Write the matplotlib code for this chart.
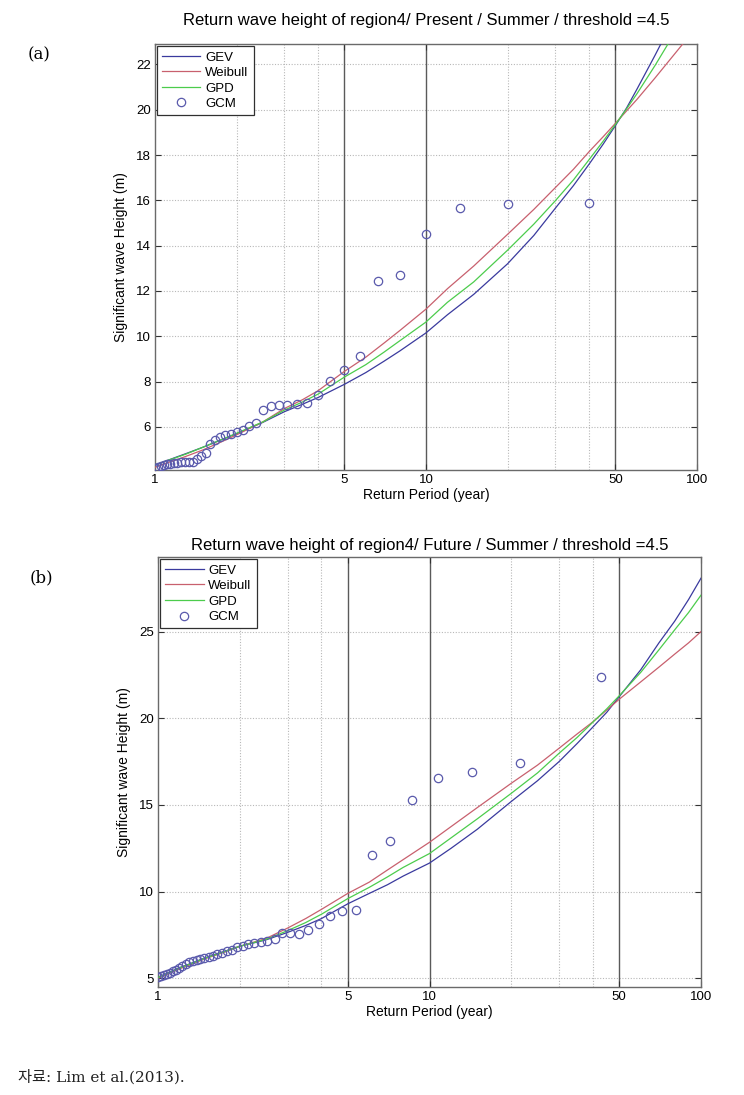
import matplotlib
matplotlib.use("Agg")
import matplotlib.pyplot as plt
from matplotlib.ticker import FixedLocator, NullLocator, FixedFormatter
from matplotlib import font_manager

plt.rcParams['font.family'] = ['Liberation Sans', 'DejaVu Sans']

# ---------------- data: panel (a) Present ----------------
curve_T_a = [1.0, 1.1, 1.2, 1.3, 1.5, 1.75, 2.0, 2.5, 3.0, 3.5, 4.0, 5.0, 6.0, 7.0, 8.0, 10, 12, 15,
             20, 25, 30, 35, 40, 45, 50, 55, 60, 70, 80, 90, 100]
gev_a     = [4.30, 4.50, 4.67, 4.82, 5.10, 5.42, 5.70, 6.20, 6.67, 7.00, 7.30, 7.88, 8.40, 8.90, 9.35, 10.15, 10.95, 11.85,
             13.20, 14.45, 15.65, 16.65, 17.60, 18.47, 19.30, 20.08, 20.90, 22.40, 23.75, 25.05, 26.35]
weibull_a = [4.22, 4.40, 4.55, 4.70, 4.98, 5.33, 5.65, 6.22, 6.81, 7.20, 7.60, 8.45, 9.08, 9.70, 10.25, 11.20, 12.10, 13.10,
             14.50, 15.60, 16.56, 17.37, 18.15, 18.80, 19.40, 19.95, 20.45, 21.40, 22.25, 23.00, 23.70]
gpd_a     = [4.32, 4.50, 4.65, 4.80, 5.10, 5.43, 5.72, 6.22, 6.74, 7.10, 7.45, 8.20, 8.75, 9.30, 9.80, 10.63, 11.50, 12.40,
             13.80, 14.95, 15.98, 16.90, 17.80, 18.60, 19.35, 20.04, 20.70, 21.95, 23.10, 24.15, 25.20]

gcm_T_a = [40, 20, 13.33, 10, 8, 6.67, 5.71, 5.0, 4.44, 4.0,
           3.64, 3.33, 3.08, 2.86, 2.67, 2.5, 2.35, 2.22, 2.11, 2.0,
           1.90, 1.82, 1.74, 1.67, 1.6, 1.54, 1.48, 1.43, 1.38, 1.33,
           1.29, 1.25, 1.21, 1.18, 1.14, 1.11, 1.08, 1.05, 1.03, 1.0]
gcm_H_a = [15.9, 15.85, 15.65, 14.5, 12.7, 12.45, 9.14, 8.52, 8.03, 7.4,
           7.05, 7.02, 6.98, 6.97, 6.93, 6.75, 6.18, 6.02, 5.88, 5.76,
           5.70, 5.65, 5.56, 5.43, 5.25, 4.85, 4.70, 4.58, 4.47, 4.45,
           4.44, 4.43, 4.42, 4.40, 4.38, 4.35, 4.30, 4.27, 4.23, 4.17]

# ---------------- data: panel (b) Future ----------------
curve_T_b = [1.0, 1.1, 1.2, 1.3, 1.5, 1.75, 2.0, 2.5, 3.0, 3.5, 4.0, 5.0, 6.0, 7.0, 8.0, 10, 12, 15,
             20, 25, 30, 35, 40, 45, 50, 60, 70, 80, 90, 100]
gev_b     = [5.05, 5.35, 5.62, 5.82, 6.20, 6.55, 6.85, 7.22, 7.65, 8.05, 8.45, 9.30, 9.90, 10.40, 10.90, 11.65, 12.50, 13.60,
             15.20, 16.40, 17.50, 18.55, 19.50, 20.35, 21.25, 22.80, 24.35, 25.60, 26.85, 28.08]
weibull_b = [5.00, 5.28, 5.55, 5.75, 6.15, 6.50, 6.85, 7.30, 7.90, 8.45, 8.98, 9.90, 10.55, 11.25, 11.85, 12.85, 13.75, 14.85,
             16.25, 17.30, 18.27, 19.10, 19.80, 20.48, 21.10, 22.10, 22.95, 23.70, 24.35, 25.00]
gpd_b     = [5.05, 5.33, 5.60, 5.80, 6.18, 6.53, 6.85, 7.25, 7.75, 8.22, 8.70, 9.60, 10.25, 10.85, 11.40, 12.20, 13.10, 14.20,
             15.67, 16.85, 17.98, 18.90, 19.78, 20.55, 21.30, 22.65, 23.95, 25.10, 26.10, 27.10]

gcm_T_b = [43, 21.5, 14.33, 10.75, 8.6, 7.17, 6.14, 5.38, 4.78, 4.3,
           3.91, 3.58, 3.31, 3.07, 2.87, 2.69, 2.53, 2.39, 2.26, 2.15,
           2.05, 1.95, 1.87, 1.79, 1.72, 1.654, 1.593, 1.536, 1.483, 1.433,
           1.387, 1.344, 1.303, 1.265, 1.229, 1.194, 1.162, 1.132, 1.103, 1.075,
           1.049, 1.024, 1.0]
gcm_H_b = [22.4, 17.44, 16.9, 16.57, 15.27, 12.95, 12.13, 8.93, 8.88, 8.59,
           8.12, 7.81, 7.58, 7.61, 7.61, 7.27, 7.14, 7.08, 7.04, 7.0,
           6.89, 6.81, 6.62, 6.55, 6.45, 6.38, 6.30, 6.24, 6.15, 6.10,
           6.05, 6.00, 5.92, 5.85, 5.72, 5.60, 5.50, 5.42, 5.33, 5.27,
           5.20, 5.15, 5.10]

x_ticks = [1, 5, 10, 50, 100]
x_ticklabels = ['1', '5', '10', '50', '100']
solid_vlines = [5, 10, 50]
dotted_vlines = [2, 3, 4, 20, 30, 40]

yticks_a = [6, 8, 10, 12, 14, 16, 18, 20, 22]
ylim_a = (4.1, 22.9)
yticks_b = [5, 10, 15, 20, 25]
ylim_b = (4.5, 29.3)

title_a = 'Return wave height of region4/ Present / Summer / threshold =4.5'
title_b = 'Return wave height of region4/ Future / Summer / threshold =4.5'

C_GEV = '#3a3a9e'
C_WEI = '#c8606e'
C_GPD = '#4ccc4c'
C_GCM = '#5a5aac'

names = {f.name for f in font_manager.fontManager.ttflist}
leg_family = ['Liberation Sans Narrow', 'Liberation Sans'] if 'Liberation Sans Narrow' in names else ['Liberation Sans']

fig = plt.figure(figsize=(7.44, 10.95), dpi=100)

def draw(ax, T, gev, wei, gpd, gT, gH, yticks, ylim, title, pad):
    for v in dotted_vlines:
        ax.axvline(v, color='#b8b8b8', lw=0.8, ls=(0, (1, 1.5)), zorder=1)
    for yv in yticks:
        ax.axhline(yv, color='#b8b8b8', lw=0.8, ls=(0, (1, 1.5)), zorder=1)
    for v in solid_vlines:
        ax.axvline(v, color='#5a5a5a', lw=1.0, zorder=1)
    ax.plot(T, gev, color=C_GEV, lw=0.9, label='GEV', zorder=3)
    ax.plot(T, wei, color=C_WEI, lw=0.9, label='Weibull', zorder=3)
    ax.plot(T, gpd, color=C_GPD, lw=0.9, label='GPD', zorder=3)
    ax.plot(gT, gH, ls='none', marker='o', ms=6, mfc='none', mec=C_GCM, mew=0.9,
            label='GCM', zorder=4)
    ax.set_xscale('log')
    ax.set_xlim(1, 100)
    ax.set_ylim(*ylim)
    ax.xaxis.set_major_locator(FixedLocator(x_ticks))
    ax.xaxis.set_major_formatter(FixedFormatter(x_ticklabels))
    ax.xaxis.set_minor_locator(NullLocator())
    ax.set_yticks(yticks)
    ax.tick_params(direction='in', top=True, right=True, labelsize=9.5,
                   length=4, width=0.8, colors='#333333', pad=3)
    for lab in ax.get_xticklabels() + ax.get_yticklabels():
        lab.set_color('black')
    for s in ax.spines.values():
        s.set_color('#6a6a6a')
        s.set_linewidth(1.0)
    ax.set_xlabel('Return Period (year)', fontsize=10, labelpad=1)
    ax.set_ylabel('Significant wave Height (m)', fontsize=10, labelpad=6)
    ax.set_title(title, fontsize=12, pad=pad)
    leg = ax.legend(loc='upper left', prop={'family': leg_family, 'size': 9.5},
                    frameon=True, fancybox=False,
                    handlelength=2.9, handletextpad=0.35, labelspacing=0.25,
                    borderaxespad=0.15, borderpad=0.4)
    leg.get_frame().set_edgecolor('#303030')
    leg.get_frame().set_linewidth(0.9)
    leg.get_frame().set_alpha(1)

ax1 = fig.add_axes([0.2083, 0.5708, 0.7285, 0.3890])
draw(ax1, curve_T_a, gev_a, weibull_a, gpd_a, gcm_T_a, gcm_H_a, yticks_a, ylim_a, title_a, 14)

ax2 = fig.add_axes([0.2124, 0.0986, 0.7298, 0.3927])
draw(ax2, curve_T_b, gev_b, weibull_b, gpd_b, gcm_T_b, gcm_H_b, yticks_b, ylim_b, title_b, 5)

fig.text(28 / 744, 1 - 55 / 1095, '(a)', fontsize=12, family=['DejaVu Serif'], va='center', ha='left')
fig.text(30 / 744, 1 - 578 / 1095, '(b)', fontsize=12, family=['DejaVu Serif'], va='center', ha='left')
fig.text(18 / 744, 1 - 1077 / 1095, '자료: Lim et al.(2013).', fontsize=11,
         family=['DejaVu Serif', 'Noto Sans CJK KR'], va='center', ha='left', color='#222222')

fig.savefig('out.png', dpi=100)
